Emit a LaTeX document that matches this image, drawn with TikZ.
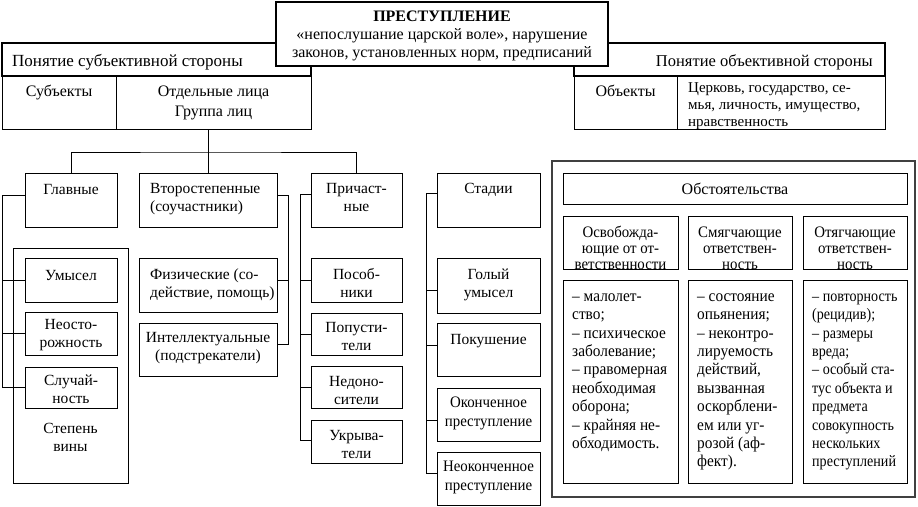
\documentclass[tikz,border=0pt]{standalone}
\usepackage{fontspec}
\setmainfont{Liberation Serif}
\newfontfamily\condf[FakeStretch=0.93]{Liberation Serif}
\newfontfamily\condg[FakeStretch=0.88]{Liberation Serif}
\usetikzlibrary{fit}
\newcommand\fsz[2]{\fontsize{#1}{#2}\selectfont}
\begin{document}
\begin{tikzpicture}[x=1pt,y=-1pt,
  box/.style={draw, line width=0.9pt, inner sep=0pt, fill=white},
  tbox/.style={draw, line width=2.8pt, inner sep=0pt, fill=white},
  cbox/.style={draw=black!75, line width=1.3pt, inner sep=0pt, fill=white},
  txt/.style={inner sep=0pt, anchor=north, align=center, font=\fsz{15.5}{18}},
  ltxt/.style={inner sep=0pt, anchor=north west, align=left, font=\fsz{15.5}{18}},
  ctxt/.style={inner sep=0pt, anchor=north west, align=left, font=\condf\fsz{16.5}{18.4}},
  htxt/.style={inner sep=0pt, anchor=north, align=center, font=\condf\fsz{16}{16}},
  conn/.style={line width=0.9pt},
]
\useasboundingbox (0,0) rectangle (918,506);

% ---------- top tables ----------
\node[box, fit={(2,76) (116,129)}] (subjcell) {};
\node[box, fit={(116,76) (311,129)}] (otd) {};
\node[txt, font=\fsz{16}{18}] (subjcell-t) at (59,83.4) {\strut Субъекты};
\node[txt, font=\fsz{16}{20}] (otd-t) at (213.5,82) {\strut Отдельные лица\\Группа лиц};

\node[box, fit={(574,76) (677,129)}] (objcell) {};
\node[box, fit={(677,76) (885,129)}] (objlist) {};
\node[txt, font=\fsz{16}{18}] (objcell-t) at (625.5,83.4) {\strut Объекты};
\begin{scope}
  \clip (678,77) rectangle (884,128.5);
  \node[ltxt, font=\fsz{15}{17}] (objlist-t) at (688,80.1) {\strut Церковь, государство, се-\\мья, личность, имущество,\\нравственность};
\end{scope}

\node[tbox, fit={(2,43) (311,76)}] (subj) {};
\node[ltxt, font=\fsz{17}{18}] (subj-t) at (12,53.4) {\strut Понятие субъективной стороны};
\node[tbox, fit={(574,43) (885,76)}] (obj) {};
\node[txt, anchor=north east, font=\fsz{16.5}{18}] (obj-t) at (873,53.4) {\strut Понятие объективной стороны};

\node[tbox, fit={(276,2) (608,66)}] (prest) {};
\node[txt, font=\fsz{16}{18}] (prest-t) at (442,8.4) {\strut\textbf{ПРЕСТУПЛЕНИЕ}\\«непослушание царской воле», нарушение\\законов, установленных норм, предписаний};

% ---------- second level ----------
\node[box, fit={(25,173) (117,227)}] (glav) {};
\node[txt] (glav-t) at (71,181.4) {\strut Главные};
\node[box, fit={(139,173) (277,227)}] (vtor) {};
\node[ltxt] (vtor-t) at (150,180.4) {\strut Второстепенные\\(соучастники)};
\node[box, fit={(311,173) (402,227)}] (prich) {};
\node[txt] (prich-t) at (356.5,180.4) {\strut Причаст-\\ные};
\node[box, fit={(437,173) (540,227)}] (stad) {};
\node[txt] (stad-t) at (488.5,180.4) {\strut Стадии};

% ---------- degree of guilt ----------
\node[box, fit={(13,248) (128,483)}] (stepen) {};
\node[txt] (stepen-t) at (70.5,420.4) {\strut Степень\\вины};
\node[box, fit={(25,258) (117,302)}] (umy) {};
\node[txt] (umy-t) at (71,267.4) {\strut Умысел};
\node[box, fit={(25,312) (117,355)}] (neost) {};
\node[txt] (neost-t) at (71,316.4) {\strut Неосто-\\рожность};
\node[box, fit={(25,367) (117,408)}] (sluch) {};
\node[txt] (sluch-t) at (71,372.4) {\strut Случай-\\ность};

% ---------- accomplices ----------
\node[box, fit={(139,258) (277,312)}] (fiz) {};
\node[ltxt] (fiz-t) at (150,266.4) {\strut Физические (со-\\действие, помощь)};
\node[box, fit={(139,323) (277,376)}] (intel) {};
\node[txt] (intel-t) at (208,329.4) {\strut Интеллектуальные\\(подстрекатели)};

% ---------- involved ----------
\node[box, fit={(311,258) (402,302)}] (posob) {};
\node[txt] (posob-t) at (356.5,266.4) {\strut Пособ-\\ники};
\node[box, fit={(311,313) (402,355)}] (popust) {};
\node[txt] (popust-t) at (356.5,319.4) {\strut Попусти-\\тели};
\node[box, fit={(311,366) (402,408)}] (nedon) {};
\node[txt] (nedon-t) at (356.5,373.4) {\strut Недоно-\\сители};
\node[box, fit={(311,420) (402,463)}] (ukr) {};
\node[txt] (ukr-t) at (356.5,427.4) {\strut Укрыва-\\тели};

% ---------- stages ----------
\node[box, fit={(437,258) (540,313)}] (golyi) {};
\node[txt] (golyi-t) at (488.5,266.4) {\strut Голый\\умысел};
\node[box, fit={(437,323) (540,376)}] (pokush) {};
\node[txt] (pokush-t) at (488.5,331.4) {\strut Покушение};
\node[box, fit={(437,388) (540,441)}] (okon) {};
\node[txt, font=\condf\fsz{16}{19}] (okon-t) at (488.5,393.7) {\strut Оконченное\\преступление};
\node[box, fit={(437,452) (540,505)}] (neokon) {};
\node[txt, font=\condf\fsz{16}{19}] (neokon-t) at (488.5,457.7) {\strut Неоконченное\\преступление};

% ---------- circumstances ----------
\node[cbox, fit={(552,161) (915,497)}] (obst) {};
\node[box, fit={(563,173) (907,204)}] (obsthead) {};
\node[txt, font=\fsz{16}{18}] (obsthead-t) at (735,181.4) {\strut Обстоятельства};

\node[box, fit={(563,216) (678,269)}] (h1) {};
\node[box, fit={(688,216) (792,269)}] (h2) {};
\node[box, fit={(803,216) (907,269)}] (h3) {};
\begin{scope}
  \clip (563,216) rectangle (907,268.5);
  \node[htxt] (h1-t) at (620.5,225.8) {\strut Освобожда-\\ющие от от-\\ветственности};
  \node[htxt] (h2-t) at (740,225.8) {\strut Смягчающие\\ответствен-\\ность};
  \node[htxt] (h3-t) at (855,225.8) {\strut Отягчающие\\ответствен-\\ность};
\end{scope}

\node[box, fit={(563,280) (678,483)}] (b1) {};
\node[box, fit={(688,280) (792,483)}] (b2) {};
\node[box, fit={(803,280) (907,483)}] (b3) {};
\node[ctxt] (b1-t) at (572,288.2) {\strut – малолет-\\ство;\\– психическое\\заболевание;\\– правомерная\\необходимая\\оборона;\\– крайняя не-\\обходимость.};
\node[ctxt] (b2-t) at (697,288.2) {\strut – состояние\\опьянения;\\– неконтро-\\лируемость\\действий,\\вызванная\\оскорблени-\\ем или уг-\\розой (аф-\\фект).};
\node[ctxt, font=\condg\fsz{16}{18.4}] (b3-t) at (812,288.2) {\strut – повторность\\(рецидив);\\– размеры\\вреда;\\– особый ста-\\тус объекта и\\предмета\\совокупность\\нескольких\\преступлений};

% ---------- connectors ----------
\coordinate (bus) at (208,152);
\draw[conn] (otd.south -| vtor.north) -- (vtor.north);
\draw[conn] (glav.north) |- (bus) -| (prich.north);

% left spine (guilt)
\coordinate (lsp) at (2,0);
\coordinate (glav-l) at ([yshift=5pt]glav.west);
\draw[conn] (glav-l) -| (lsp |- sluch.west) -- (sluch.west);
\draw[conn] (umy.west) -- (umy.west -| lsp);
\draw[conn] (neost.west) -- (neost.west -| lsp);

% accomplices spine
\coordinate (rsp) at (288,0);
\coordinate (vtor-r) at ([yshift=5pt]vtor.east);
\coordinate (fiz-r) at ([yshift=5pt]fiz.east);
\coordinate (intel-r) at ([yshift=5pt]intel.east);
\draw[conn] (vtor-r) -| (rsp |- intel-r) -- (intel-r);
\draw[conn] (fiz-r) -- (fiz-r -| rsp);

% involved spine
\coordinate (psp) at (300,0);
\coordinate (prich-l) at ([yshift=6pt]prich.west);
\coordinate (ukr-l) at ([yshift=1.5pt]ukr.west);
\draw[conn] (prich-l) -| (psp |- ukr-l) -- (ukr-l);
\draw[conn] (posob.west) -- (posob.west -| psp);
\draw[conn] (popust.west) -- (popust.west -| psp);
\draw[conn] (nedon.west) -- (nedon.west -| psp);

% stages spine
\coordinate (ssp) at (426,0);
\coordinate (stad-l) at ([yshift=7pt]stad.west);
\coordinate (golyi-l) at ([yshift=-4.5pt]golyi.west);
\coordinate (pokush-l) at ([yshift=4.5pt]pokush.west);
\coordinate (okon-l) at ([yshift=-5.5pt]okon.west);
\coordinate (neokon-l) at ([yshift=5.5pt]neokon.west);
\draw[conn] (stad-l) -| (ssp |- neokon-l) -- (neokon-l);
\draw[conn] (golyi-l) -- (golyi-l -| ssp);
\draw[conn] (pokush-l) -- (pokush-l -| ssp);
\draw[conn] (okon-l) -- (okon-l -| ssp);
\end{tikzpicture}
\end{document}
